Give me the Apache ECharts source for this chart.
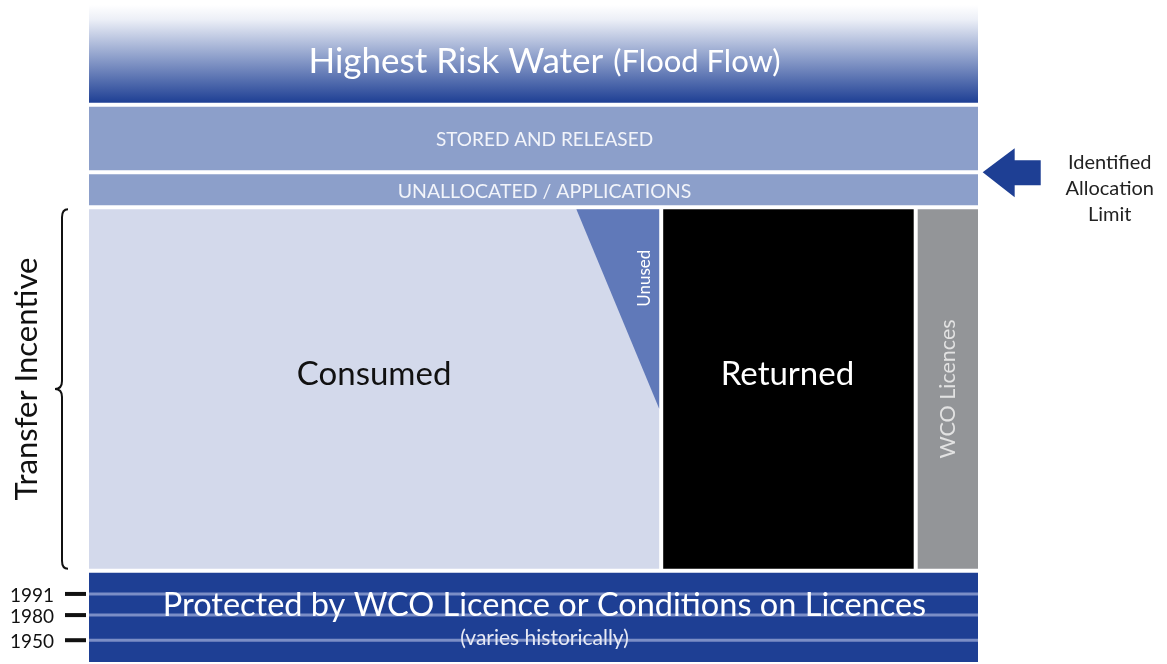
<!DOCTYPE html>
<html>
<head>
<meta charset="utf-8">
<script src="https://cdn.jsdelivr.net/npm/echarts@6/dist/echarts.min.js"></script>
<style>
  html, body { margin: 0; padding: 0; background: #fff; }
  #chart { width: 1167px; height: 664px; }
</style>
</head>
<body>
<div id="chart"></div>
<script>
// blocks of the water allocation diagram (x: share of flow, y: level)
const blockNames = ['Protected', 'Consumed', 'Returned', 'WCO Licences', 'Unallocated', 'Stored', 'Highest Risk'];
const blockLabels = [
  'Protected by WCO Licence or Conditions on Licences',
  'Consumed',
  'Returned',
  'WCO Licences',
  'UNALLOCATED / APPLICATIONS',
  'STORED AND RELEASED',
  'Highest Risk Water'
];
const blockX0 = [0, 0, 64.3, 92.8, 0, 0, 0];
const blockX1 = [100, 64.3, 92.8, 100, 100, 100, 100];
const blockY0 = [0, 14.1, 14.1, 14.1, 69.1, 74.4, 84.6];
const blockY1 = [14.1, 69.1, 69.1, 69.1, 74.4, 84.6, 100];

// unused wedge inside the consumed block
const unusedX = [54.8, 64.3, 64.3];
const unusedY = [69.1, 69.1, 38.6];

// historic protection levels
const eraYears = ['1991', '1980', '1950'];
const eraLevels = [10.6, 7.4, 3.6];

// allocation limit marker
const limitLevel = 74.4;
const limitLabel = 'Identified\nAllocation\nLimit';

// transfer incentive range
const incentiveRange = [14.1, 69.1];
const incentiveLabel = 'Transfer Incentive';

const FONT = 'Lato, "Open Sans", sans-serif';
const GAP = 4;

const blockColors = {
  'Protected': '#1e3f94',
  'Consumed': '#d3d9eb',
  'Returned': '#000000',
  'WCO Licences': '#939598',
  'Unallocated': '#8c9fca',
  'Stored': '#8c9fca',
  'Highest Risk': new echarts.graphic.LinearGradient(0, 0, 0, 1, [
    { offset: 0, color: '#ffffff' },
    { offset: 0.15, color: '#eceff7' },
    { offset: 0.55, color: '#8a9cc9' },
    { offset: 1, color: '#1e3f94' }
  ])
};

// text layout per block: offset from block centre, font, colour, rotation
const blockText = {
  'Protected': { dx: 11, dy: -12, size: 32.5, color: '#ffffff' },
  'Consumed': { dx: 0, dy: -15, size: 33, color: '#111111' },
  'Returned': { dx: -1, dy: -15, size: 33, color: '#ffffff' },
  'WCO Licences': { dx: 0, dy: 0, size: 21.5, color: '#e2e2e2', rotate: true },
  'Unallocated': { dx: 11, dy: 1.5, size: 19.5, color: '#f2f4fa' },
  'Stored': { dx: 11, dy: 1.5, size: 19, color: '#f2f4fa' },
  'Highest Risk': { dx: 11, dy: 8, size: 35, color: '#ffffff' }
};

const chart = echarts.init(document.getElementById('chart'));

const renderBlock = (params, api) => {
  const i = params.dataIndex;
  const name = blockNames[i];
  const tl = api.coord([blockX0[i], blockY1[i]]);
  const br = api.coord([blockX1[i], blockY0[i]]);
  const g = GAP / 2;
  const x = tl[0] + g, y = tl[1] + g;
  const w = br[0] - tl[0] - GAP, h = br[1] - tl[1] - GAP;
  const t = blockText[name];
  const children = [{
    type: 'rect',
    shape: { x, y, width: w, height: h },
    style: { fill: blockColors[name] }
  }];
  if (name === 'Consumed') {
    const pts = unusedX.map((ux, k) => {
      const p = api.coord([ux, unusedY[k]]);
      return [Math.min(p[0], x + w), Math.max(p[1], y)];
    });
    children.push({ type: 'polygon', shape: { points: pts }, style: { fill: '#6079b9' } });
    children.push({
      type: 'text', x: x + w - 15, y: y + 69, rotation: Math.PI / 2,
      style: { text: 'Unused', fill: '#ffffff', font: '17px ' + FONT, align: 'center', verticalAlign: 'middle' }
    });
  }
  if (name === 'Protected') {
    eraLevels.forEach((lv) => {
      const p = api.coord([0, lv]);
      children.push({
        type: 'rect',
        shape: { x: x, y: p[1] - 1.5, width: w, height: 3 },
        style: { fill: '#7b8ec6' }
      });
    });
  }
  const cx = x + w / 2 + t.dx, cy = y + h / 2 + t.dy;
  let style = {
    text: blockLabels[i], fill: t.color, font: t.size + 'px ' + FONT,
    align: 'center', verticalAlign: 'middle'
  };
  if (name === 'Highest Risk') {
    style = {
      text: '{a|' + blockLabels[i] + '}{b|(Flood Flow)}',
      align: 'center', verticalAlign: 'middle',
      rich: {
        a: { fill: '#ffffff', font: t.size + 'px ' + FONT, padding: [0, 10, 0, 0] },
        b: { fill: '#ffffff', font: '31px ' + FONT }
      }
    };
  }
  children.push({ type: 'text', x: cx, y: cy, rotation: t.rotate ? Math.PI / 2 : 0, style, z2: 10 });
  if (name === 'Protected') {
    children.push({
      type: 'text', x: cx, y: cy + 33,
      style: { text: '(varies historically)', fill: '#e6e9f4', font: '21px ' + FONT, align: 'center', verticalAlign: 'middle' },
      z2: 10
    });
  }
  return { type: 'group', children };
};

const renderEra = (params, api) => {
  const i = params.dataIndex;
  const p = api.coord([0, eraLevels[i]]);
  return {
    type: 'group',
    children: [
      { type: 'rect', shape: { x: p[0] - 22, y: p[1] - 2, width: 21, height: 4 }, style: { fill: '#111' } },
      {
        type: 'text', x: p[0] - 33, y: p[1] + 2,
        style: { text: eraYears[i], fill: '#111', font: '19px ' + FONT, align: 'right', verticalAlign: 'middle' }
      }
    ]
  };
};

const renderLimit = (params, api) => {
  const tip = api.coord([100.3, limitLevel]);
  const tail = api.coord([106.8, limitLevel]);
  const hx = tip[0] + 32, y = tip[1];
  return {
    type: 'group',
    children: [
      {
        type: 'polygon',
        shape: { points: [[tip[0], y], [hx, y - 24], [hx, y - 12], [tail[0], y - 12], [tail[0], y + 13], [hx, y + 13], [hx, y + 25]] },
        style: { fill: '#1e3f94' }
      },
      {
        type: 'text', x: tail[0] + 69, y: y + 16,
        style: { text: limitLabel, fill: '#222', font: '20px ' + FONT, lineHeight: 26, align: 'center', verticalAlign: 'middle' }
      }
    ]
  };
};

const renderBrace = (params, api) => {
  const top = api.coord([0, incentiveRange[1]]);
  const bot = api.coord([0, incentiveRange[0]]);
  const xr = top[0] - 19, xs = xr - 6, xt = xr - 13;
  const t = top[1] + 2, b = bot[1] - 2, m = (t + b) / 2;
  const path = `M${xr} ${t} Q${xs} ${t} ${xs} ${t + 8} L${xs} ${m - 8} Q${xs} ${m} ${xt} ${m} ` +
    `Q${xs} ${m} ${xs} ${m + 8} L${xs} ${b - 8} Q${xs} ${b} ${xr} ${b}`;
  return {
    type: 'group',
    children: [
      { type: 'path', shape: { pathData: path }, style: { stroke: '#111', lineWidth: 2, fill: null } },
      {
        type: 'text', x: 27, y: m - 10, rotation: Math.PI / 2,
        style: { text: incentiveLabel, fill: '#111', font: '31px ' + FONT, align: 'center', verticalAlign: 'middle' }
      }
    ]
  };
};

const option = {
  animation: false,
  backgroundColor: '#ffffff',
  grid: { left: 87, top: 3, width: 893, height: 663 },
  xAxis: { type: 'value', min: 0, max: 100, show: false },
  yAxis: { type: 'value', min: 0, max: 100, show: false },
  series: [
    {
      type: 'custom', name: 'blocks', renderItem: renderBlock,
      data: blockNames.map((n, i) => [blockX0[i], blockY0[i], blockX1[i], blockY1[i]])
    },
    { type: 'custom', name: 'eras', renderItem: renderEra, data: eraLevels.map((v, i) => [0, v]) },
    { type: 'custom', name: 'limit', renderItem: renderLimit, data: [[100, limitLevel]] },
    { type: 'custom', name: 'incentive', renderItem: renderBrace, data: [[0, incentiveRange[0]]] }
  ]
};

chart.setOption(option);

window.addEventListener('resize', () => {
  chart && chart.resize();
});
</script>
</body>
</html>
